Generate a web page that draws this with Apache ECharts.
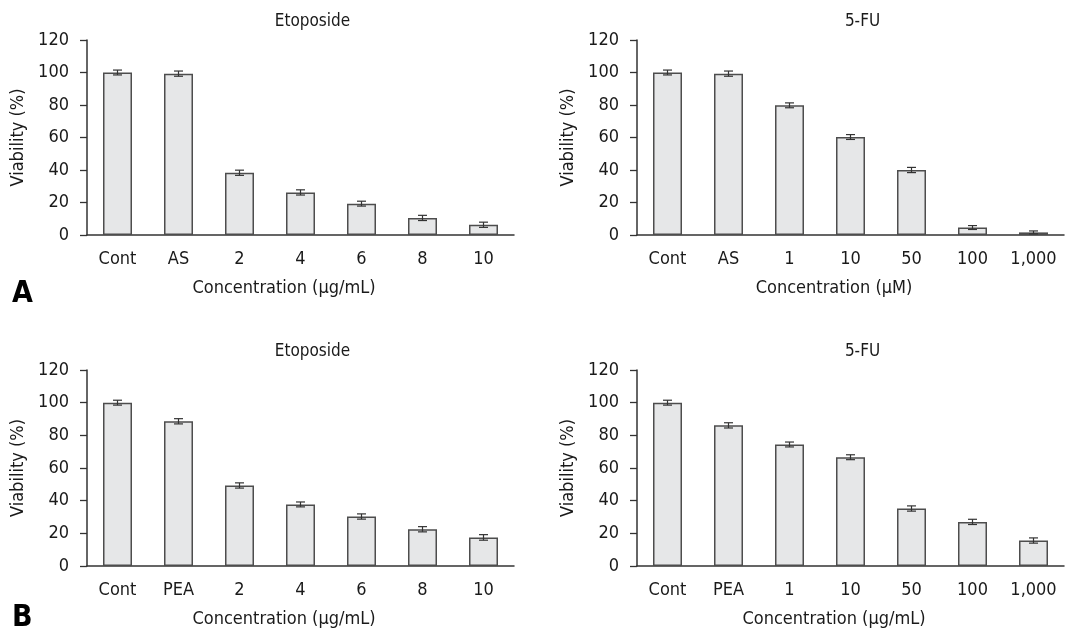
<!DOCTYPE html>
<html>
<head>
<meta charset="utf-8">
<script src="https://cdn.jsdelivr.net/npm/echarts@6/dist/echarts.min.js"></script>
<style>
  html, body { margin: 0; padding: 0; background: #fff; }
  #main { width: 1081px; height: 632px; }
</style>
</head>
<body>
<div id="main"></div>
<script>
// panel A: etoposide / 5-FU with AS
const etoACats = ["Cont", "AS", "2", "4", "6", "8", "10"];
const etoAVals = [100, 99.3, 38.3, 26.2, 19.3, 10.5, 6.3];
const etoAErr = [1.5, 1.6, 1.6, 1.6, 1.5, 1.6, 1.6];

const fuACats = ["Cont", "AS", "1", "10", "50", "100", "1,000"];
const fuAVals = [100, 99.3, 79.8, 60.3, 40.0, 4.6, 1.6];
const fuAErr = [1.5, 1.6, 1.5, 1.5, 1.6, 1.2, 0.9];

// panel B: etoposide / 5-FU with PEA
const etoBCats = ["Cont", "PEA", "2", "4", "6", "8", "10"];
const etoBVals = [100, 88.6, 49.3, 37.7, 30.3, 22.5, 17.5];
const etoBErr = [1.5, 1.6, 1.6, 1.5, 1.6, 1.6, 1.7];

const fuBCats = ["Cont", "PEA", "1", "10", "50", "100", "1,000"];
const fuBVals = [100, 86.1, 74.4, 66.6, 35.2, 27.0, 15.6];
const fuBErr = [1.5, 1.6, 1.5, 1.5, 1.6, 1.6, 1.6];

const yTicks = [0, 20, 40, 60, 80, 100, 120];

const FONT = '"Liberation Sans Narrow", "DejaVu Sans Condensed", "Roboto", sans-serif';
const TEXT = "#1a1a1a";

const panels = [
  { cats: etoACats, vals: etoAVals, err: etoAErr, title: "Etoposide", xName: "Concentration (\u00b5g/mL)", left: 87, top: 40, height: 195 },
  { cats: fuACats, vals: fuAVals, err: fuAErr, title: "5-FU", xName: "Concentration (\u00b5M)", left: 637, top: 40, height: 195 },
  { cats: etoBCats, vals: etoBVals, err: etoBErr, title: "Etoposide", xName: "Concentration (\u00b5g/mL)", left: 87, top: 370, height: 196 },
  { cats: fuBCats, vals: fuBVals, err: fuBErr, title: "5-FU", xName: "Concentration (\u00b5g/mL)", left: 637, top: 370, height: 196 },
];

const PLOT_W = 427;

var myChart = echarts.init(document.getElementById("main"));

const grids = [];
const xAxes = [];
const yAxes = [];
const series = [];
const titles = [];

panels.forEach((p, i) => {
  grids.push({ left: p.left, top: p.top, width: PLOT_W, height: p.height });

  xAxes.push({
    type: "category",
    gridIndex: i,
    data: p.cats,
    axisLine: { lineStyle: { color: "#333", width: 1.5 } },
    axisTick: { alignWithLabel: true, length: 8, lineStyle: { color: "#333", width: 1.3 } },
    axisLabel: { color: TEXT, fontFamily: FONT, fontSize: 18, margin: 15 },
    name: p.xName,
    nameLocation: "middle",
    nameGap: 44,
    nameTextStyle: { color: TEXT, fontFamily: FONT, fontSize: 18, padding: [0, 33, 0, 0] },
  });

  yAxes.push({
    type: "value",
    gridIndex: i,
    min: yTicks[0],
    max: yTicks[yTicks.length - 1],
    interval: 20,
    splitLine: { show: false },
    axisLine: { show: true, lineStyle: { color: "#333", width: 1.5 } },
    axisTick: { show: true, length: 7, lineStyle: { color: "#333", width: 1.3 } },
    axisLabel: { color: TEXT, fontFamily: FONT, fontSize: 18, margin: 18 },
    name: "Viability (%)",
    nameLocation: "middle",
    nameGap: 60,
    nameTextStyle: { color: TEXT, fontFamily: FONT, fontSize: 18 },
  });

  series.push({
    type: "bar",
    xAxisIndex: i,
    yAxisIndex: i,
    data: p.vals,
    barWidth: 29,
    itemStyle: { color: "#e6e7e8", borderColor: "#4d4d4d", borderWidth: 1.5 },
    silent: true,
  });

  // error bars drawn through the axis scales
  series.push({
    type: "custom",
    xAxisIndex: i,
    yAxisIndex: i,
    data: p.vals.map((v, k) => [k, v - p.err[k], v + p.err[k]]),
    renderItem: (params, api) => {
      const lo = api.coord([api.value(0), api.value(1)]);
      const hi = api.coord([api.value(0), api.value(2)]);
      const w = 4.5;
      const st = { stroke: "#333", lineWidth: 1.2 };
      return {
        type: "group",
        children: [
          { type: "line", shape: { x1: lo[0], y1: lo[1], x2: hi[0], y2: hi[1] }, style: st },
          { type: "line", shape: { x1: lo[0] - w, y1: lo[1], x2: lo[0] + w, y2: lo[1] }, style: st },
          { type: "line", shape: { x1: hi[0] - w, y1: hi[1], x2: hi[0] + w, y2: hi[1] }, style: st },
        ],
      };
    },
    z: 5,
    silent: true,
  });

  titles.push({
    text: p.title,
    left: p.left + PLOT_W / 2 + 12,
    top: p.top - 27,
    textAlign: "center",
    padding: 0,
    textStyle: { color: TEXT, fontFamily: FONT, fontSize: 17, fontWeight: "normal" },
  });
});

var option = {
  backgroundColor: "#fff",
  animation: false,
  title: titles,
  grid: grids,
  xAxis: xAxes,
  yAxis: yAxes,
  series: series,
  graphic: [
    { type: "text", left: 12, top: 279, style: { text: "A", fontFamily: FONT, fontSize: 30, fontWeight: "bold", fill: "#000" } },
    { type: "text", left: 12, top: 603, style: { text: "B", fontFamily: FONT, fontSize: 30, fontWeight: "bold", fill: "#000" } },
  ],
};

myChart.setOption(option);
</script>
</body>
</html>
